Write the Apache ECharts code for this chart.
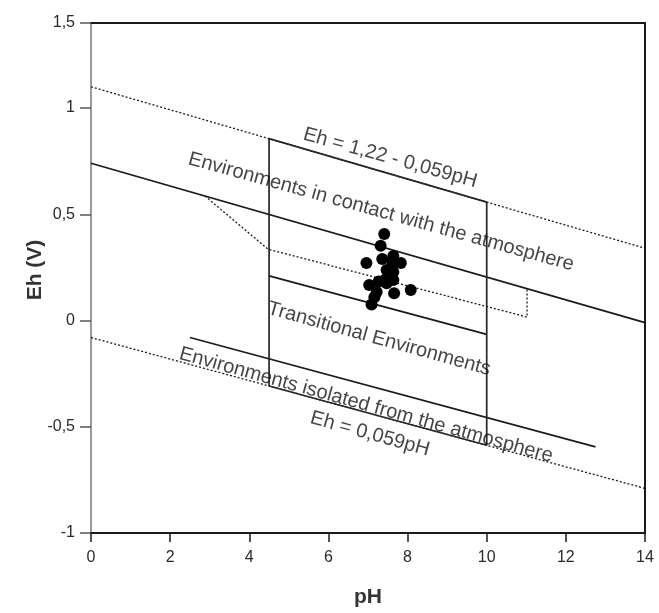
<!DOCTYPE html>
<html>
<head>
<meta charset="utf-8">
<script src="https://cdn.jsdelivr.net/npm/echarts@6/dist/echarts.min.js"></script>
<style>
html,body{margin:0;padding:0;background:#fff;}
#chart{width:659px;height:613px;}
</style>
</head>
<body>
<div id="chart"></div>
<script>
// ---- data (pH, Eh in V) ----
const xTickLabels = ['0','2','4','6','8','10','12','14'];
const yTickValues = [-1, -0.5, 0, 0.5, 1, 1.5];
const yTickLabels = ['-1','-0,5','0','0,5','1','1,5'];

const upperLimit = [[0, 1.10], [14, 0.34]];          // Eh = 1,22 - 0,059pH
const lowerLimit = [[0, -0.08], [14, -0.79]];        // Eh = 0,059pH
const contactLine = [[0, 0.74], [14, -0.01]];
const isolatedLine = [[2.5, -0.08], [12.75, -0.595]];
const transitionalLine = [[4.5, 0.21], [10, -0.065]];
const boxOutline = [[4.5, 0.856], [10, 0.557], [10, -0.587], [4.5, -0.308], [4.5, 0.856]];
const dottedPath = [[2.88, 0.586], [4.47, 0.336], [11.02, 0.016], [11.02, 0.147]];

const samplePH = [7.41, 7.32, 6.96, 7.36, 7.64, 7.62, 7.83, 7.47, 7.64, 7.44, 7.64, 7.27, 7.03, 7.47, 7.22, 7.66, 8.08, 7.16, 7.09];
const sampleEh = [0.407, 0.352, 0.271, 0.289, 0.304, 0.271, 0.271, 0.238, 0.228, 0.193, 0.191, 0.184, 0.167, 0.175, 0.134, 0.128, 0.144, 0.109, 0.075];

const labelTexts = ['Eh = 1,22 - 0,059pH', 'Environments in contact with the atmosphere', 'Transitional Environments', 'Environments isolated from the atmosphere', 'Eh = 0,059pH'];
const labelPH = [7.56, 7.33, 7.28, 6.95, 7.05];
const labelEh = [0.765, 0.511, -0.087, -0.398, -0.534];

// ---- chart ----
const chart = echarts.init(document.getElementById('chart'), null, {renderer: 'canvas'});
const INK = '#1a1a1a';
const FONT = '"Liberation Sans", Arial, sans-serif';

function lineSeries(data, type, width, color) {
  return {
    type: 'line', data: data, showSymbol: false, symbol: 'none', silent: true,
    animation: false, z: 2,
    lineStyle: {color: color || INK, width: width, type: type, opacity: 1}
  };
}

const points = samplePH.map((p, i) => [p, sampleEh[i]]);
const labels = labelTexts.map((t, i) => ({name: t, value: [labelPH[i], labelEh[i]]}));

chart.setOption({
  animation: false,
  backgroundColor: '#fff',
  grid: {left: 91, right: 14, top: 23, bottom: 80, containLabel: false},
  xAxis: [{
    type: 'value', min: 0, max: 14, interval: 2,
    name: 'pH', nameLocation: 'middle', nameGap: 54, nameMoveOverlap: false,
    nameTextStyle: {fontFamily: FONT, fontSize: 21, fontWeight: 'bold', color: '#333'},
    axisLine: {show: true, onZero: false, lineStyle: {color: INK, width: 2}},
    axisTick: {show: true, length: 9, lineStyle: {color: INK, width: 1.5}},
    axisLabel: {fontFamily: FONT, fontSize: 16, color: '#2a2a2a', margin: 17,
      formatter: v => xTickLabels[Math.round(v / 2)]},
    splitLine: {show: false}
  }, {
    type: 'value', min: 0, max: 14, position: 'top',
    axisLine: {show: true, onZero: false, lineStyle: {color: INK, width: 2}},
    axisTick: {show: false}, axisLabel: {show: false}, splitLine: {show: false}
  }],
  yAxis: [{
    type: 'value', min: -1, max: 1.4, interval: 0.5,
    name: 'Eh (V)', nameLocation: 'middle', nameGap: 45, nameRotate: 90, nameMoveOverlap: false,
    nameTextStyle: {fontFamily: FONT, fontSize: 21, fontWeight: 'bold', color: '#333', padding: [0, 0, 0, 16]},
    axisLine: {show: true, onZero: false, lineStyle: {color: '#777', width: 1.5}},
    axisTick: {show: true, length: 11, lineStyle: {color: '#555', width: 1.5}},
    axisLabel: {fontFamily: FONT, fontSize: 16, color: '#2a2a2a', margin: 16,
      showMaxLabel: true,
      formatter: v => {
        let best = 0, d = 1e9;
        yTickValues.forEach((t, i) => { const dd = Math.abs(t - v); if (dd < d) { d = dd; best = i; } });
        return yTickLabels[best];
      }},
    splitLine: {show: false}
  }, {
    type: 'value', min: -1, max: 1.4, position: 'right',
    axisLine: {show: true, onZero: false, lineStyle: {color: INK, width: 2}},
    axisTick: {show: false}, axisLabel: {show: false}, splitLine: {show: false}
  }],
  series: [
    lineSeries(upperLimit, [2, 2], 1.3),
    lineSeries(lowerLimit, [2, 2], 1.3),
    lineSeries(dottedPath, [2, 2], 1.3),
    lineSeries(contactLine, 'solid', 1.7),
    lineSeries(isolatedLine, 'solid', 1.7),
    lineSeries(transitionalLine, 'solid', 1.7),
    lineSeries(boxOutline, 'solid', 1.7, '#262626'),
    {
      type: 'scatter', data: points, symbol: 'circle', symbolSize: 12, silent: true, z: 5,
      itemStyle: {color: '#000', opacity: 1}
    },
    {
      type: 'scatter', data: labels, symbolSize: 0, silent: true, z: 6,
      label: {
        show: true, position: 'inside', rotate: -15.5,
        formatter: p => p.name,
        fontFamily: FONT, fontSize: 20, color: '#141414'
      }
    }
  ]
});
</script>
</body>
</html>
